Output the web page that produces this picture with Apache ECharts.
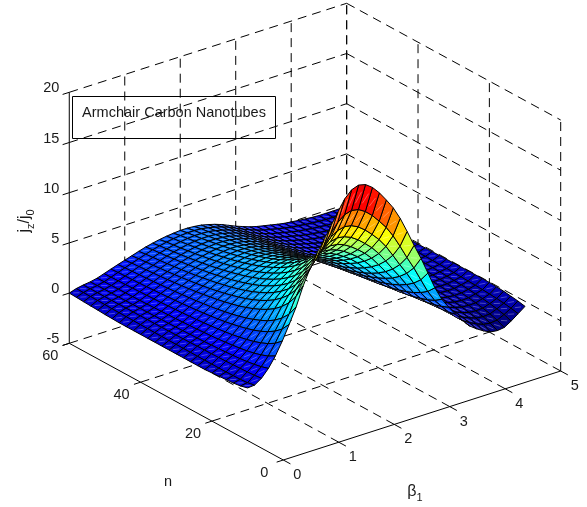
<!DOCTYPE html>
<html>
<head>
<meta charset="utf-8">
<title>Armchair Carbon Nanotubes</title>
<style>
  html, body { margin: 0; padding: 0; background: #fff; }
  #mychart { width: 587px; height: 507px; }
</style>
<script src="https://cdn.jsdelivr.net/npm/echarts@6/dist/echarts.min.js"></script>
</head>
<body>
<div id="mychart"></div>
<script>
// axis ticks
const betaTicks = [0, 1, 2, 3, 4, 5];
const nTicks = [0, 20, 40, 60];
const zTicks = [-5, 0, 5, 10, 15, 20];

// mesh positions
const betaGrid = [0, 0.125, 0.25, 0.375, 0.5, 0.625, 0.75, 0.875, 1, 1.125, 1.25, 1.375, 1.5, 1.625, 1.75, 1.875, 2, 2.125, 2.25, 2.375, 2.5, 2.625, 2.75, 2.875, 3, 3.125, 3.25, 3.375, 3.5, 3.625, 3.75, 3.875, 4, 4.125, 4.25, 4.375, 4.5, 4.625, 4.75, 4.875, 5];
const nGrid = [10, 12, 14, 16, 18, 20, 22, 24, 26, 28, 30, 32, 34, 36, 38, 40, 42, 44, 46, 48, 50, 52, 54, 56, 58, 60];

// jz/j0, one row per n, one column per beta
const zRows = [
  [0.24,0.3,0.76,1.52,2.54,3.8,5.24,6.76,8.62,10.14,11.41,12.51,13.69,14.87,15.97,16.65,16.9,16.73,16.22,15.46,14.53,13.52,12.25,10.73,9.13,7.6,5.92,4.23,2.87,1.86,0.93,0.08,-0.68,-1.18,-1.61,-1.94,-2.03,-1.94,-1.52,-1.01,-0.5],
  [0.05,0.15,0.67,1.3,2.14,3.19,4.38,5.64,7.17,8.41,9.46,10.39,11.35,12.32,13.22,13.78,13.99,13.86,13.44,12.82,12.04,11.2,10.14,8.88,7.53,6.27,4.87,3.49,2.38,1.55,0.78,0.08,-0.53,-0.95,-1.3,-1.58,-1.67,-1.6,-1.26,-0.85,-0.35],
  [-0.05,0.1,0.62,1.15,1.87,2.77,3.79,4.87,6.16,7.22,8.12,8.92,9.74,10.57,11.33,11.8,11.98,11.87,11.52,10.99,10.33,9.6,8.69,7.58,6.43,5.35,4.15,2.99,2.05,1.34,0.68,0.08,-0.44,-0.8,-1.1,-1.34,-1.42,-1.36,-1.08,-0.74,-0.25],
  [-0.1,0.08,0.58,1.04,1.66,2.46,3.35,4.28,5.41,6.33,7.13,7.82,8.55,9.25,9.9,10.31,10.48,10.38,10.09,9.63,9.04,8.4,7.59,6.63,5.61,4.65,3.62,2.6,1.8,1.18,0.6,0.08,-0.37,-0.68,-0.95,-1.16,-1.22,-1.18,-0.95,-0.66,-0.15],
  [-0.15,0.06,0.55,0.95,1.5,2.21,3,3.83,4.81,5.64,6.34,6.96,7.6,8.23,8.8,9.15,9.3,9.22,8.97,8.56,8.04,7.46,6.75,5.87,4.96,4.11,3.2,2.31,1.6,1.05,0.54,0.08,-0.32,-0.6,-0.83,-1.02,-1.07,-1.04,-0.84,-0.6,-0.1],
  [-0.2,0.06,0.52,0.88,1.38,2.02,2.73,3.48,4.35,5.08,5.72,6.28,6.85,7.41,7.91,8.23,8.37,8.3,8.07,7.71,7.24,6.72,6.06,5.28,4.45,3.69,2.86,2.07,1.44,0.96,0.5,0.08,-0.27,-0.52,-0.73,-0.9,-0.96,-0.92,-0.76,-0.55,-0.05],
  [-0.25,0.07,0.5,0.83,1.28,1.86,2.51,3.19,3.97,4.63,5.21,5.73,6.24,6.74,7.19,7.48,7.6,7.55,7.34,7.02,6.59,6.11,5.51,4.79,4.03,3.34,2.59,1.88,1.31,0.88,0.46,0.08,-0.23,-0.46,-0.65,-0.8,-0.86,-0.83,-0.69,-0.5,-0.05],
  [-0.25,0.07,0.48,0.78,1.19,1.72,2.32,2.94,3.65,4.25,4.78,5.26,5.73,6.18,6.59,6.85,6.96,6.91,6.73,6.43,6.04,5.6,5.05,4.38,3.68,3.05,2.36,1.72,1.21,0.81,0.43,0.08,-0.2,-0.41,-0.59,-0.73,-0.78,-0.76,-0.63,-0.47,-0.05],
  [-0.25,0.07,0.47,0.74,1.11,1.61,2.16,2.73,3.38,3.93,4.43,4.86,5.3,5.7,6.07,6.31,6.42,6.38,6.21,5.94,5.57,5.17,4.65,4.03,3.39,2.79,2.17,1.58,1.12,0.75,0.39,0.08,-0.17,-0.37,-0.53,-0.66,-0.71,-0.69,-0.58,-0.44,-0.05],
  [-0.25,0.08,0.46,0.7,1.05,1.51,2.02,2.55,3.14,3.65,4.12,4.52,4.93,5.3,5.64,5.86,5.96,5.92,5.77,5.52,5.18,4.8,4.32,3.73,3.13,2.58,2,1.47,1.04,0.7,0.37,0.08,-0.16,-0.34,-0.49,-0.61,-0.65,-0.64,-0.54,-0.41,-0.05],
  [-0.25,0.08,0.44,0.67,1,1.43,1.9,2.4,2.95,3.42,3.85,4.23,4.6,4.95,5.26,5.46,5.56,5.52,5.39,5.16,4.84,4.48,4.03,3.48,2.91,2.4,1.86,1.37,0.97,0.66,0.35,0.08,-0.13,-0.3,-0.44,-0.55,-0.6,-0.59,-0.5,-0.39,-0.06],
  [-0.25,0.09,0.43,0.65,0.95,1.35,1.8,2.26,2.77,3.21,3.61,3.98,4.32,4.64,4.92,5.11,5.2,5.18,5.05,4.84,4.54,4.2,3.77,3.26,2.72,2.24,1.73,1.28,0.91,0.62,0.34,0.08,-0.12,-0.27,-0.4,-0.51,-0.56,-0.55,-0.47,-0.37,-0.07],
  [-0.25,0.09,0.42,0.62,0.91,1.29,1.71,2.14,2.61,3.02,3.4,3.75,4.07,4.37,4.63,4.81,4.89,4.87,4.75,4.55,4.27,3.95,3.55,3.05,2.55,2.09,1.62,1.2,0.86,0.59,0.32,0.08,-0.1,-0.25,-0.38,-0.47,-0.52,-0.51,-0.44,-0.36,-0.08],
  [-0.25,0.1,0.42,0.6,0.87,1.23,1.63,2.04,2.48,2.86,3.23,3.55,3.86,4.13,4.38,4.54,4.62,4.6,4.5,4.31,4.04,3.74,3.35,2.88,2.4,1.97,1.53,1.13,0.82,0.56,0.3,0.08,-0.09,-0.23,-0.35,-0.44,-0.49,-0.48,-0.42,-0.34,-0.09],
  [-0.25,0.1,0.41,0.58,0.84,1.18,1.56,1.94,2.35,2.71,3.06,3.37,3.66,3.92,4.14,4.29,4.37,4.35,4.26,4.08,3.83,3.54,3.17,2.72,2.26,1.85,1.44,1.07,0.78,0.53,0.29,0.08,-0.08,-0.21,-0.32,-0.41,-0.46,-0.45,-0.4,-0.33,-0.1],
  [-0.25,0.11,0.4,0.57,0.81,1.13,1.49,1.86,2.24,2.58,2.91,3.21,3.48,3.72,3.93,4.07,4.15,4.13,4.04,3.88,3.64,3.36,3.01,2.58,2.14,1.75,1.36,1.01,0.74,0.51,0.28,0.08,-0.07,-0.19,-0.3,-0.38,-0.43,-0.42,-0.38,-0.32,-0.11],
  [-0.25,0.12,0.4,0.55,0.78,1.09,1.43,1.78,2.14,2.46,2.78,3.06,3.32,3.54,3.74,3.88,3.95,3.94,3.85,3.7,3.46,3.2,2.86,2.45,2.03,1.66,1.28,0.96,0.7,0.49,0.27,0.08,-0.06,-0.18,-0.28,-0.36,-0.4,-0.4,-0.36,-0.3,-0.12],
  [-0.25,0.13,0.39,0.54,0.76,1.05,1.38,1.71,2.05,2.36,2.65,2.93,3.17,3.39,3.57,3.7,3.77,3.76,3.68,3.53,3.31,3.06,2.73,2.33,1.93,1.58,1.22,0.92,0.68,0.47,0.26,0.08,-0.05,-0.16,-0.26,-0.34,-0.38,-0.37,-0.34,-0.29,-0.13],
  [-0.25,0.14,0.39,0.53,0.73,1.02,1.33,1.64,1.97,2.26,2.54,2.81,3.04,3.24,3.41,3.53,3.6,3.59,3.52,3.38,3.16,2.92,2.61,2.23,1.84,1.5,1.16,0.87,0.65,0.45,0.25,0.08,-0.04,-0.15,-0.24,-0.31,-0.36,-0.35,-0.33,-0.28,-0.14],
  [-0.22,0.15,0.39,0.51,0.71,0.99,1.28,1.59,1.89,2.17,2.44,2.7,2.92,3.11,3.27,3.38,3.45,3.44,3.37,3.24,3.04,2.8,2.5,2.13,1.76,1.43,1.11,0.84,0.62,0.44,0.25,0.08,-0.03,-0.14,-0.23,-0.3,-0.34,-0.34,-0.32,-0.28,-0.15],
  [-0.2,0.16,0.38,0.5,0.69,0.96,1.24,1.53,1.82,2.08,2.35,2.59,2.8,2.98,3.13,3.24,3.31,3.3,3.24,3.11,2.92,2.69,2.4,2.04,1.68,1.36,1.06,0.8,0.6,0.42,0.24,0.08,-0.03,-0.13,-0.21,-0.28,-0.32,-0.32,-0.3,-0.27,-0.16],
  [-0.15,0.18,0.37,0.49,0.68,0.93,1.2,1.48,1.76,2.01,2.26,2.5,2.7,2.87,3.01,3.11,3.18,3.17,3.11,3,2.8,2.58,2.3,1.96,1.61,1.3,1.01,0.77,0.57,0.41,0.23,0.08,-0.02,-0.12,-0.2,-0.26,-0.31,-0.3,-0.29,-0.26,-0.16],
  [-0.12,0.2,0.37,0.49,0.66,0.9,1.17,1.44,1.7,1.93,2.18,2.41,2.6,2.76,2.9,3,3.05,3.05,3,2.89,2.7,2.49,2.21,1.88,1.54,1.25,0.96,0.74,0.56,0.4,0.23,0.08,-0.02,-0.11,-0.19,-0.25,-0.29,-0.29,-0.28,-0.26,-0.17],
  [-0.08,0.21,0.37,0.48,0.64,0.88,1.14,1.39,1.64,1.87,2.11,2.33,2.51,2.67,2.79,2.89,2.95,2.94,2.9,2.79,2.61,2.4,2.13,1.81,1.48,1.2,0.93,0.71,0.54,0.38,0.22,0.08,-0.01,-0.1,-0.17,-0.23,-0.28,-0.28,-0.27,-0.25,-0.18],
  [-0.04,0.22,0.37,0.47,0.63,0.86,1.11,1.35,1.59,1.81,2.04,2.26,2.43,2.58,2.7,2.79,2.84,2.84,2.8,2.69,2.52,2.32,2.06,1.74,1.43,1.15,0.89,0.68,0.52,0.37,0.21,0.08,-0.01,-0.09,-0.17,-0.22,-0.26,-0.26,-0.26,-0.24,-0.18],
  [0,0.23,0.36,0.45,0.6,0.83,1.06,1.29,1.51,1.72,1.94,2.15,2.31,2.45,2.56,2.64,2.7,2.7,2.65,2.56,2.39,2.2,1.95,1.65,1.35,1.09,0.84,0.65,0.5,0.36,0.21,0.08,0,-0.08,-0.15,-0.21,-0.25,-0.25,-0.25,-0.23,-0.19]
];

// colour limits of the jet map
const colorMin = -2;
const colorMax = 19.5;

const legendText = 'Armchair Carbon Nanotubes';
const fontName = '"Liberation Sans", Arial, sans-serif';

const betaMax = betaTicks[betaTicks.length - 1];
const nMax = nTicks[nTicks.length - 1];
const zMin = zTicks[0];
const zMax = zTicks[zTicks.length - 1];

// fixed MATLAB style view, orthographic: data -> plane the hidden axes run over
function project(b, n, z) {
  return [
    283.3 + 55.48 * b - 3.567 * n,
    460 - 17.8 * b - 1.945 * n - 10.04 * (z - zMin)
  ];
}

// jet colormap, 64 steps like the original
function jet(t) {
  t = Math.floor(Math.min(Math.max(t, 0), 0.999) * 64) / 63;
  const part = (v) => Math.round(255 * Math.min(Math.max(v, 0), 1));
  return 'rgb(' + part(1.5 - Math.abs(4 * t - 3)) + ',' + part(1.5 - Math.abs(4 * t - 2)) + ',' + part(1.5 - Math.abs(4 * t - 1)) + ')';
}

// back to front so nearer cells paint over farther ones
const cells = [];
for (let m = nGrid.length - 2; m >= 0; m--) {
  for (let k = betaGrid.length - 2; k >= 0; k--) {
    cells.push([k, m]);
  }
}

// dashed grid on floor and back walls, [from, to] in data terms
const gridSegs = [];
betaTicks.forEach((b) => {
  if (b > 0) gridSegs.push([[b, 0, zMin], [b, nMax, zMin]]);
  if (b > 0) gridSegs.push([[b, nMax, zMin], [b, nMax, zMax]]);
});
nTicks.forEach((n) => {
  if (n > 0) gridSegs.push([[0, n, zMin], [betaMax, n, zMin]]);
  gridSegs.push([[betaMax, n, zMin], [betaMax, n, zMax]]);
});
zTicks.forEach((z) => {
  if (z > zMin) {
    gridSegs.push([[0, nMax, z], [betaMax, nMax, z]]);
    gridSegs.push([[betaMax, nMax, z], [betaMax, 0, z]]);
  }
});

// solid axes and their small ticks
const axisSegs = [
  [[0, nMax, zMin], [0, nMax, zMax]],
  [[0, nMax, zMin], [0, 0, zMin]],
  [[0, 0, zMin], [betaMax, 0, zMin]]
];
zTicks.forEach((z) => axisSegs.push([[0, nMax, z], [-0.12, nMax, z]]));
nTicks.forEach((n) => axisSegs.push([[0, n, zMin], [-0.12, n, zMin]]));
betaTicks.forEach((b) => axisSegs.push([[b, 0, zMin], [b, -2, zMin]]));

// label anchor = tick point plus an offset in px
const labels = [];
zTicks.forEach((z) => labels.push({ text: String(z), at: [0, nMax, z], dx: -10, dy: -4, align: 'right' }));
nTicks.forEach((n) => labels.push({ text: String(n), at: [0, n, zMin], dx: -19, dy: 13, align: 'center' }));
betaTicks.forEach((b) => labels.push({ text: String(b), at: [b, 0, zMin], dx: 14, dy: 15, align: 'center' }));

function segSeries(segs, dash, name) {
  return {
    type: 'custom',
    name: name,
    coordinateSystem: 'cartesian2d',
    silent: true,
    clip: false,
    progressive: 0,
    data: segs.map((s, i) => [i]),
    renderItem: function (params, api) {
      const s = segs[api.value(0)];
      const a = api.coord(project(s[0][0], s[0][1], s[0][2]));
      const b = api.coord(project(s[1][0], s[1][1], s[1][2]));
      return {
        type: 'line',
        shape: { x1: a[0], y1: a[1], x2: b[0], y2: b[1] },
        style: { stroke: '#000', lineWidth: 1, lineDash: dash, fill: null }
      };
    }
  };
}

const option = {
  animation: false,
  grid: { left: 0, right: 0, top: 0, bottom: 0 },
  xAxis: { type: 'value', min: 0, max: 587, show: false },
  yAxis: { type: 'value', min: 0, max: 507, inverse: true, show: false },
  series: [
    segSeries(gridSegs, [9, 6], 'grid'),
    segSeries(axisSegs, null, 'axes'),
    {
      type: 'custom',
      name: 'surface',
      coordinateSystem: 'cartesian2d',
      silent: true,
      clip: false,
      progressive: 0,
      data: cells,
      renderItem: function (params, api) {
        const k = api.value(0);
        const m = api.value(1);
        const corner = (i, j) => api.coord(project(betaGrid[i], nGrid[j], zRows[j][i]));
        const left = corner(k, m + 1);
        const right = corner(k + 1, m);
        const color = jet((zRows[m][k] - colorMin) / (colorMax - colorMin));
        // the short light streak along each cell's long diagonal
        const sx = (right[0] - left[0]) * 0.28;
        const sy = (right[1] - left[1]) * 0.28;
        return {
          type: 'group',
          children: [
            {
              type: 'polygon',
              shape: { points: [corner(k, m), right, corner(k + 1, m + 1), left] },
              style: { fill: color, stroke: '#000', lineWidth: 1 }
            },
            {
              type: 'line',
              shape: { x1: left[0] + sx, y1: left[1] + sy, x2: right[0] - sx, y2: right[1] - sy },
              style: { stroke: 'rgba(255,255,255,0.3)', lineWidth: 1 }
            }
          ]
        };
      }
    },
    {
      type: 'custom',
      name: 'labels',
      coordinateSystem: 'cartesian2d',
      silent: true,
      clip: false,
      progressive: 0,
      data: labels.map((l, i) => [i]),
      renderItem: function (params, api) {
        const l = labels[api.value(0)];
        const p = api.coord(project(l.at[0], l.at[1], l.at[2]));
        return {
          type: 'text',
          x: p[0] + l.dx,
          y: p[1] + l.dy,
          style: { text: l.text, fill: '#1a1a1a', font: '14.5px ' + fontName, align: l.align, verticalAlign: 'middle' }
        };
      }
    }
  ],
  graphic: [
    {
      type: 'rect',
      shape: { x: 72.5, y: 96.5, width: 203, height: 42 },
      style: { fill: 'none', stroke: '#000', lineWidth: 1 },
      silent: true
    },
    {
      type: 'text',
      x: 174, y: 113,
      style: { text: legendText, fill: '#1a1a1a', font: '14.5px ' + fontName, align: 'center', verticalAlign: 'middle' },
      silent: true
    },
    {
      type: 'text',
      x: 168, y: 482,
      style: { text: 'n', fill: '#1a1a1a', font: '14.5px ' + fontName, align: 'center', verticalAlign: 'middle' },
      silent: true
    },
    {
      type: 'text',
      x: 415, y: 492,
      style: {
        text: '{m|β}{s|1}',
        align: 'center', verticalAlign: 'middle', fill: '#1a1a1a',
        rich: {
          m: { font: '16px ' + fontName, fill: '#1a1a1a', lineHeight: 22 },
          s: { font: '11px ' + fontName, fill: '#1a1a1a', lineHeight: 22, verticalAlign: 'bottom' }
        }
      },
      silent: true
    },
    {
      type: 'text',
      x: 25, y: 221,
      rotation: Math.PI / 2,
      style: {
        text: '{m|j}{s|z}{m|/j}{s|0}',
        align: 'center', verticalAlign: 'middle', fill: '#1a1a1a',
        rich: {
          m: { font: '16px ' + fontName, fill: '#1a1a1a', lineHeight: 22 },
          s: { font: '11px ' + fontName, fill: '#1a1a1a', lineHeight: 22, verticalAlign: 'bottom' }
        }
      },
      silent: true
    }
  ]
};

let myChart = echarts.init(document.getElementById('mychart'), null, { renderer: 'canvas' });
myChart.setOption(option);
</script>
</body>
</html>
